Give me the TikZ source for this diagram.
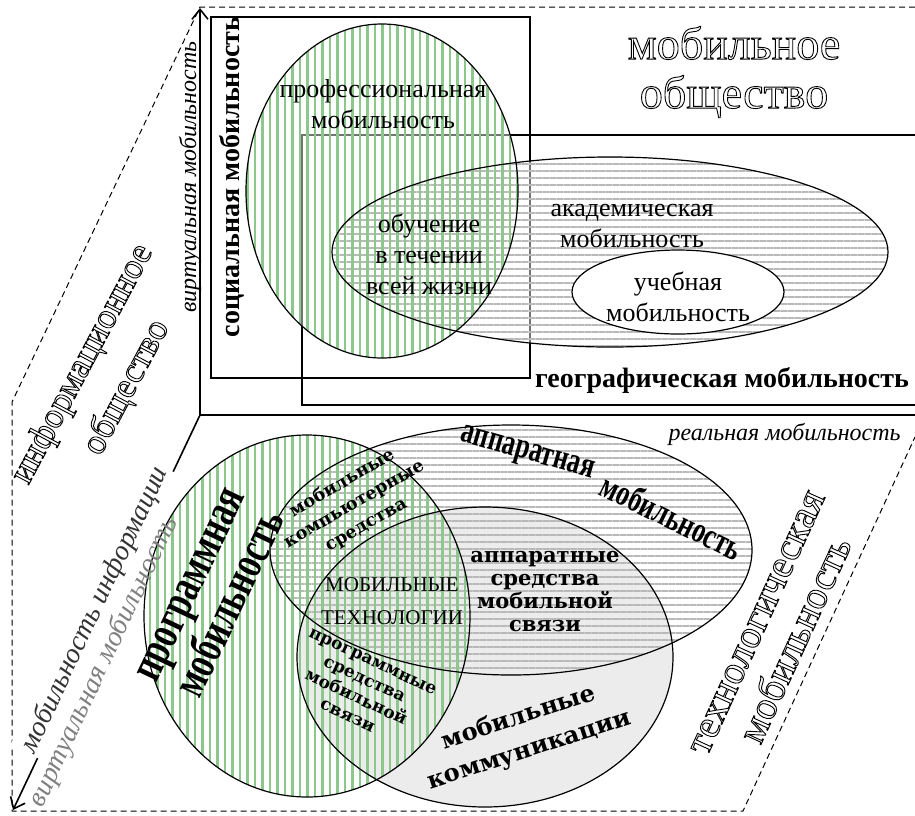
\documentclass[tikz,border=0pt]{standalone}
\usepackage{fontspec}
\setmainfont{Liberation Serif}
\newfontfamily\artfont{DejaVu Serif}
\usepackage{graphicx}
\usetikzlibrary{patterns.meta,arrows.meta}

\definecolor{stripegreen}{RGB}{140,200,140}
\definecolor{stripegray}{RGB}{185,185,185}
\definecolor{commgray}{RGB}{236,236,236}

% hollow (outlined) letters and stretched bold letters
\newcommand{\hollow}[1]{\special{pdf:literal direct 1 Tr 0.45 w}#1\special{pdf:literal direct 0 Tr 0.4 w}}
\newcommand{\tall}[1]{\scalebox{1}[1.4]{#1}}

\begin{document}
\begin{tikzpicture}[x=0.5pt,y=-0.5pt,
  thickrect/.style={line width=1.3pt},
  axisline/.style={line width=0.8pt},
  dashframe/.style={line width=0.5pt, dash pattern=on 3pt off 2pt},
  vstripes/.style={pattern={Lines[angle=90,distance=3.75pt,line width=1.1pt]}, pattern color=stripegreen},
  hstripes/.style={pattern={Lines[angle=0,distance=3.5pt,line width=0.9pt]}, pattern color=stripegray},
  veil/.style={fill=white, fill opacity=0.45},
  textlabel/.style={font=\fontsize{13}{15.5}\selectfont, align=center, inner sep=0pt},
  boldlabel/.style={font=\fontsize{14}{16}\selectfont\bfseries, inner sep=0pt},
  axislabel/.style={font=\fontsize{12}{14}\selectfont\itshape, inner sep=0pt},
  hollowlabel/.style={align=center, inner sep=0pt},
  artlabel/.style={align=center, inner sep=0pt},
]

\useasboundingbox (0,0) rectangle (915,815);

% Corners of the three faces
\coordinate (O) at (200,415);
\coordinate (Vtop) at (200,8);
\coordinate (Hend) at (915,415);
\coordinate (Dend) at (13,810);
\coordinate (TL) at (200,7);
\coordinate (TR) at (915,7);
\coordinate (LM) at (12,402);
\coordinate (LB) at (12,811);
\coordinate (BR) at (743,811);
\coordinate (RT) at (915,437);

% Centres of the ellipses
\coordinate (profC) at (382,191);
\coordinate (acadC) at (610,252);
\coordinate (studC) at (678,292);
\coordinate (progC) at (307,616);
\coordinate (hardC) at (511,550);
\coordinate (commC) at (485,657);

% Dashed outline
\draw[dashframe] (TR) -- (TL) -- (LM) -- (LB) -- (BR) -- (RT);

% Social and geographic boxes
\draw[thickrect] (211,17) rectangle (530,378);
\draw[thickrect] (915,135) -- (302,135) -- (302,405) -- (915,405);

% Upper face: professional, academic and study mobility
\fill[veil] (acadC) ellipse [x radius=139pt, y radius=47.5pt];
\fill[veil] (profC) ellipse [x radius=68pt, y radius=83.5pt];
\fill[hstripes] (acadC) ellipse [x radius=139pt, y radius=47.5pt];
\fill[vstripes] (profC) ellipse [x radius=68pt, y radius=83.5pt];
\draw[line width=0.6pt] (acadC) ellipse [x radius=139pt, y radius=47.5pt];
\draw[line width=0.6pt] (profC) ellipse [x radius=68pt, y radius=83.5pt];
\filldraw[fill=white, line width=0.6pt] (studC) ellipse [x radius=53pt, y radius=21pt];

% Lower face: software, hardware and communications
\fill[commgray] (commC) ellipse [x radius=94pt, y radius=75pt];
\fill[hstripes] (hardC) ellipse [x radius=120.5pt, y radius=62.5pt];
\fill[vstripes] (progC) ellipse [x radius=81.5pt, y radius=90.5pt];
\draw[line width=0.6pt] (commC) ellipse [x radius=94pt, y radius=75pt];
\draw[line width=0.6pt] (hardC) ellipse [x radius=120.5pt, y radius=62.5pt];
\draw[line width=0.6pt] (progC) ellipse [x radius=81.5pt, y radius=90.5pt];

% Axes
\draw[axisline, -{Straight Barb[length=5pt,width=8pt]}] (O) -- (Vtop);
\draw[axisline] (O) -- (Hend);
\draw[axisline, -{Straight Barb[length=5pt,width=8pt]}] (O) -- (Dend);

% Labels of the upper face
\node[textlabel] (proftext) at (383,104) {профессиональная\\мобильность};
\node[textlabel] (lifelong) at (429,254) {обучение\\в течении\\всей жизни};
\node[textlabel] (acadtext) at (632,226) {академическая\\мобильность};
\node[textlabel] (studtext) at (678,297) {учебная\\мобильность};
\node[boldlabel, rotate=90] (social) at (232,177) {социальная мобильность};
\node[boldlabel] (geo) at (722,380) {географическая мобильность};
\node[axislabel, rotate=90] (virttop) at (190,177) {виртуальная мобильность};
\node[axislabel, anchor=east] (real) at (901,434) {реальная мобильность};

% Labels of the left face
\node[axislabel, font=\fontsize{14}{16}\selectfont\itshape, text=black!80, rotate=64.8, fill=white, inner xsep=1pt, inner ysep=3pt] (infomob) at (95,610) {мобильность информации};
\node[axislabel, font=\fontsize{14}{16}\selectfont\itshape, text=black!50, rotate=64.8] (virtbot) at (104,662) {виртуальная мобильность};

% Labels of the lower face
\node[artlabel, rotate=64.6, font=\fontsize{17}{21.5}\selectfont\bfseries] (progtext) at (212,595) {\tall{программная}\\\tall{мобильность}};
\node[artlabel, rotate=-16, font=\fontsize{13}{15}\selectfont\bfseries] (hardword) at (527,455) {\tall{аппаратная}};
\node[artlabel, rotate=-26, font=\fontsize{13}{15}\selectfont\bfseries] (hardmob) at (672,516) {\tall{мобильность}};
\node[artlabel, rotate=30, font=\artfont\bfseries\fontsize{8.8}{12}\selectfont] (mcomp) at (354,504) {мобильные\\компьютерные\\средства};
\node[artlabel, rotate=-25, font=\artfont\bfseries\fontsize{8.5}{10}\selectfont] (mprog) at (360,689) {программные\\средства\\мобильной\\связи};
\node[artlabel, font=\artfont\bfseries\fontsize{10.5}{11.5}\selectfont] (mhard) at (545,592) {аппаратные\\средства\\мобильной\\связи};
\node[artlabel, rotate=18, font=\artfont\bfseries\fontsize{12}{17}\selectfont] (mcomm) at (524,734) {мобильные\\коммуникации};
\node[textlabel, font=\fontsize{10.5}{16.5}\selectfont] (mtech) at (392,601) {МОБИЛЬНЫЕ\\ТЕХНОЛОГИИ};

% Hollow captions of the three faces
\node[hollowlabel, font=\fontsize{23}{24.5}\selectfont] (mobsoc) at (734,72) {\hollow{мобильное}\\\hollow{общество}};
\node[hollowlabel, rotate=62, font=\fontsize{18}{25}\selectfont] (infsoc) at (105,376) {\hollow{информационное}\\\hollow{общество}};
\node[hollowlabel, rotate=65.5, font=\fontsize{20}{22}\selectfont] (techmob) at (778,632) {\hollow{технологическая}\\\hollow{мобильность}};

\end{tikzpicture}
\end{document}
